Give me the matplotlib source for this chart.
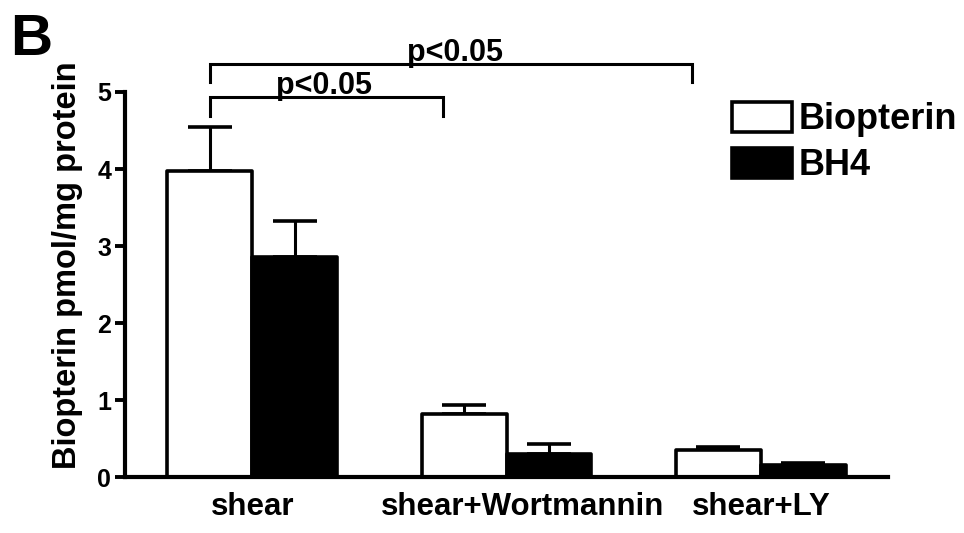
import matplotlib
matplotlib.use("Agg")
import numpy as np
import matplotlib.pyplot as plt
import matplotlib.transforms as mtransforms
from matplotlib.patches import Patch

plt.rcParams['font.family'] = ['Liberation Sans', 'DejaVu Sans']
plt.rcParams['font.weight'] = 'bold'

# Data
groups = ['shear', 'shear+Wortmannin', 'shear+LY']
biopterin = [3.98, 0.82, 0.35]
biopterin_err = [0.56, 0.12, 0.04]
bh4 = [2.86, 0.30, 0.16]
bh4_err = [0.46, 0.13, 0.02]
series_labels = ['Biopterin', 'BH4']

# significance brackets: (x_start, x_end, y_line, y_tick_bottom, x_text)
brackets = [(-1/6, 0.75, 4.94, 4.69, 0.284),
            (-1/6, 1.728, 5.37, 5.13, 0.797)]

fig = plt.figure(figsize=(9.64, 5.33), dpi=100)
ax = fig.add_axes([0.1297, 0.105, 0.7915, 0.7224])

x = np.arange(len(groups))
w = 1/3
lw = 2.6

ax.errorbar(x - w/2, biopterin, yerr=[np.zeros(3), biopterin_err], fmt='none',
            ecolor='black', elinewidth=2.2, capsize=16, capthick=2.6, zorder=1)
ax.errorbar(x + w/2, bh4, yerr=[np.zeros(3), bh4_err], fmt='none',
            ecolor='black', elinewidth=2.2, capsize=16, capthick=2.6, zorder=1)
b1 = ax.bar(x - w/2, biopterin, w, color='white', edgecolor='black', linewidth=lw, zorder=2)
b2 = ax.bar(x + w/2, bh4, w, color='black', edgecolor='black', linewidth=lw, zorder=2)
for p in list(b1) + list(b2):
    p.set_joinstyle('round')

ax.set_xlim(-0.5, 2.5)
ax.set_ylim(0, 5)
ax.set_yticks([0, 1, 2, 3, 4, 5])
ax.set_xticks(x)
ax.set_xticklabels(groups, fontsize=22.5, fontweight='bold')
ax.tick_params(axis='x', length=0, pad=11)
ax.tick_params(axis='y', length=7, width=2.8, labelsize=18, pad=3)

# the middle label sits a little right of its group in the original
lbl = ax.get_xticklabels()[1]
lbl.set_transform(lbl.get_transform() + mtransforms.ScaledTranslation(16/100, 0, fig.dpi_scale_trans))

for s in ['top', 'right']:
    ax.spines[s].set_visible(False)
for s in ['left', 'bottom']:
    ax.spines[s].set_linewidth(3)
    ax.spines[s].set_zorder(3)

ax.set_ylabel('Biopterin pmol/mg protein', fontsize=23.5, fontweight='bold')
ax.yaxis.set_label_coords(-0.076, 0.55)
ax.yaxis.label.set_verticalalignment('center')

for x0, x1, yl, yb, xt in brackets:
    ax.plot([x0, x0, x1, x1], [yb, yl, yl, yb], color='black', lw=2.2,
            clip_on=False, solid_joinstyle='miter')
    ax.text(xt, yl + 0.03, 'p<0.05', ha='center', va='baseline', fontsize=22,
            fontweight='bold')

handles = [Patch(facecolor='white', edgecolor='black', linewidth=lw, joinstyle='round'),
           Patch(facecolor='black', edgecolor='black', linewidth=lw, joinstyle='round')]
fig.legend(handles, series_labels, loc='upper left',
           bbox_to_anchor=(732/964, 1 - 102/533), frameon=False,
           handlelength=1.65, handleheight=0.88,
           handletextpad=0.2, labelspacing=0.3, borderpad=0, borderaxespad=0,
           prop={'weight': 'bold', 'size': 26})

fig.text(0.01, 0.975, 'B', fontsize=42, fontweight='bold', va='top', ha='left')

fig.savefig('out.png', dpi=100)
